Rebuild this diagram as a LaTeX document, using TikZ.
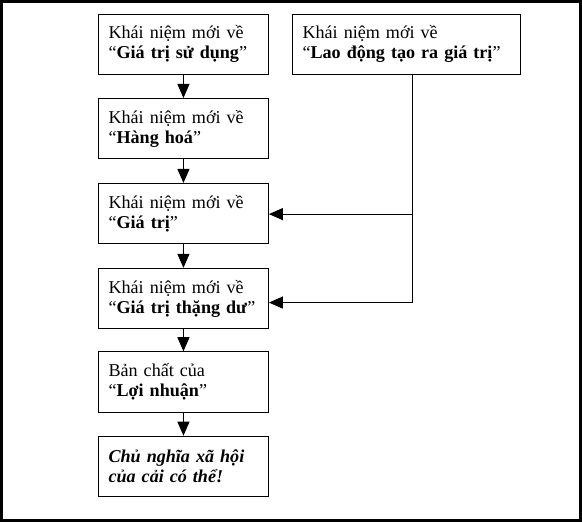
\documentclass[tikz,border=0pt]{standalone}
\usepackage{fontspec}
\setmainfont{Liberation Serif}
\usetikzlibrary{arrows.meta}
\begin{document}
\begin{tikzpicture}[x=1pt,y=-1pt,
  box/.style={draw=black,line width=1pt,minimum height=60pt,inner xsep=10pt,inner ysep=0pt,
    align=left,font=\fontsize{18pt}{20pt}\selectfont},
  lbox/.style={box,text width=149pt},
  rbox/.style={box,text width=207pt},
  conn/.style={line width=1pt},
  arr/.style={conn,-{Triangle[length=14pt,width=12pt]}}]
\useasboundingbox (0,0) rectangle (579,519);
\draw[line width=3pt] (1.5,1.5) rectangle (577.5,517.5);
\node[lbox] (b1) at (182.5,44) {Khái niệm mới về\\“\textbf{Giá trị sử dụng}”};
\node[rbox] (r) at (404.5,44) {Khái niệm mới về\\“\textbf{Lao động tạo ra giá trị}”};
\node[lbox] (b2) at (182.5,128) {Khái niệm mới về\\“\textbf{Hàng hoá}”};
\node[lbox] (b3) at (182.5,212.5) {Khái niệm mới về\\“\textbf{Giá trị}”};
\node[lbox] (b4) at (182.5,297) {Khái niệm mới về\\“\textbf{Giá trị thặng dư}”};
\node[lbox] (b5) at (182.5,380) {Bản chất của\\“\textbf{Lợi nhuận}”};
\node[lbox] (b6) at (182.5,464) {\textbf{\textit{Chủ nghĩa xã hội}}\\\textbf{\textit{của cải có thể!}}};
\coordinate (j1) at (410,213);
\coordinate (j2) at (410,301);
\draw[arr] (b1) -- (b2);
\draw[arr] (b2) -- (b3);
\draw[arr] (b3) -- (b4);
\draw[arr] (b4) -- (b5);
\draw[arr] (b5) -- (b6);
\draw[conn] (r.south -| j1) -- (j2);
\draw[arr] (j1) -- (b3.east |- j1);
\draw[arr] (j2) -- (b4.east |- j2);
\end{tikzpicture}
\end{document}
